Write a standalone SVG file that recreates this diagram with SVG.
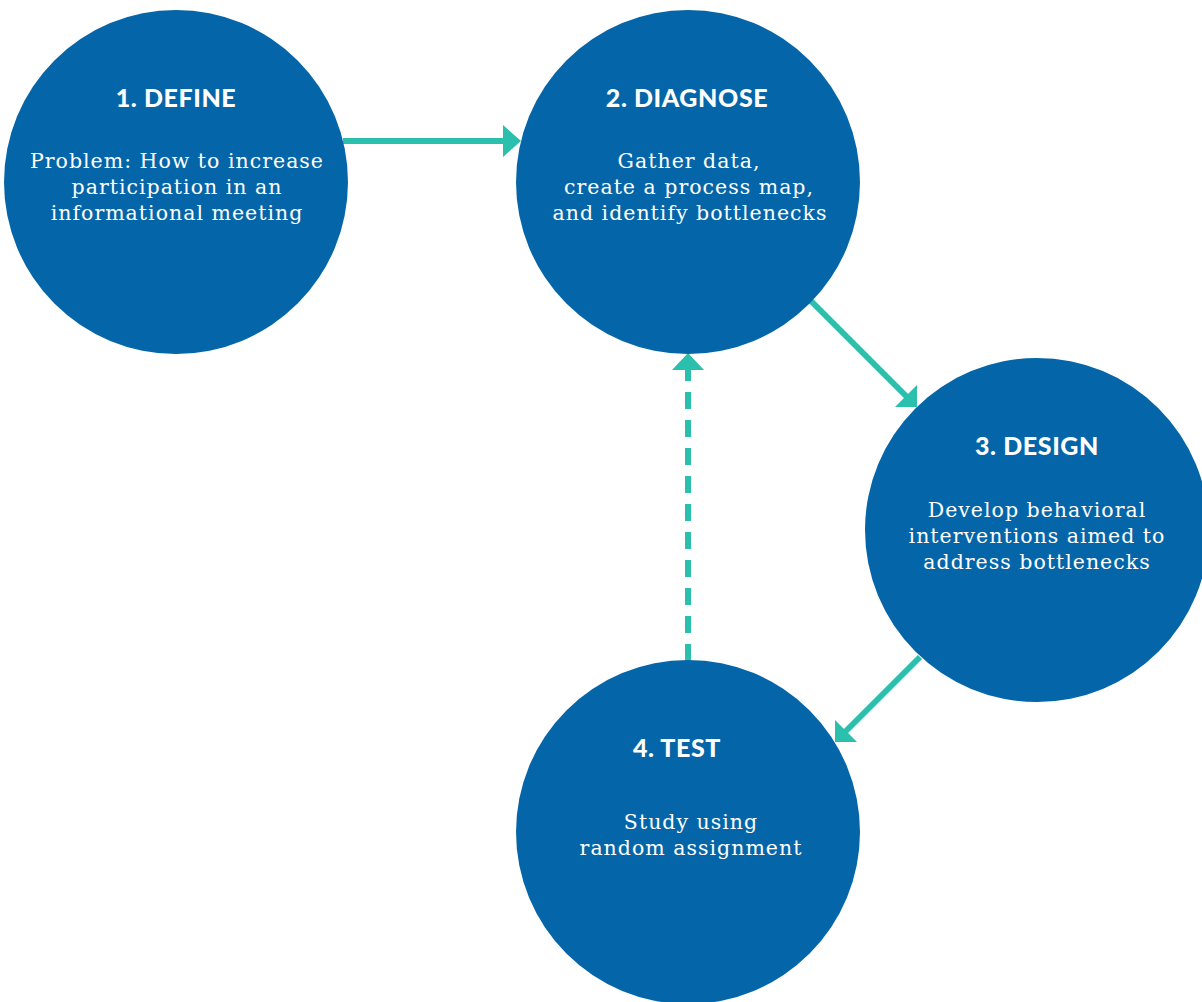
<svg xmlns="http://www.w3.org/2000/svg" width="1202" height="1002" viewBox="0 0 1202 1002">
<style>
.node{fill:#0466A9}
.h{font-family:Lato,"Open Sans","Liberation Sans",sans-serif;font-weight:900;font-size:25px;letter-spacing:0.6px;fill:#fff;text-anchor:middle}
.b{font-family:"DejaVu Serif","Liberation Serif",serif;font-size:20.5px;letter-spacing:1px;fill:#fff;text-anchor:middle}
.c{stroke:#2BBFAD;stroke-width:6;fill:none}
.hd{fill:#2BBFAD}
</style>
<rect width="1202" height="1002" fill="#fff"/>
<g id="connectors">
<line class="c" x1="343" y1="141" x2="505" y2="141"/>
<polygon class="hd" points="521,141 503,125 503,157"/>
<line class="c" x1="811" y1="301" x2="907" y2="397"/>
<polygon class="hd" points="917,407 917,385 895,407"/>
<line class="c" x1="920" y1="657" x2="845" y2="732"/>
<polygon class="hd" points="835,742 835,720 857,742"/>
<line class="c" x1="688" y1="661" x2="688" y2="370" stroke-dasharray="17 11"/>
<polygon class="hd" points="688,353 672,370 704,370"/>
</g>
<g id="n1">
<circle class="node" cx="176" cy="182" r="172"/>
<text class="h" x="176" y="107">1. DEFINE</text>
<text class="b" x="177" y="168">Problem: How to increase</text>
<text class="b" x="177" y="194">participation in an</text>
<text class="b" x="177" y="220">informational meeting</text>
</g>
<g id="n2">
<circle class="node" cx="688" cy="182" r="172"/>
<text class="h" x="687" y="107">2. DIAGNOSE</text>
<text class="b" x="689" y="168">Gather data,</text>
<text class="b" x="689" y="194">create a process map,</text>
<text class="b" x="690" y="220">and identify bottlenecks</text>
</g>
<g id="n3">
<circle class="node" cx="1037" cy="530" r="172"/>
<text class="h" x="1037" y="455">3. DESIGN</text>
<text class="b" x="1037" y="517">Develop behavioral</text>
<text class="b" x="1037" y="543">interventions aimed to</text>
<text class="b" x="1037" y="569">address bottlenecks</text>
</g>
<g id="n4">
<circle class="node" cx="688" cy="832" r="172"/>
<text class="h" x="677" y="757">4. TEST</text>
<text class="b" x="691" y="829">Study using</text>
<text class="b" x="691" y="855">random assignment</text>
</g>
</svg>
